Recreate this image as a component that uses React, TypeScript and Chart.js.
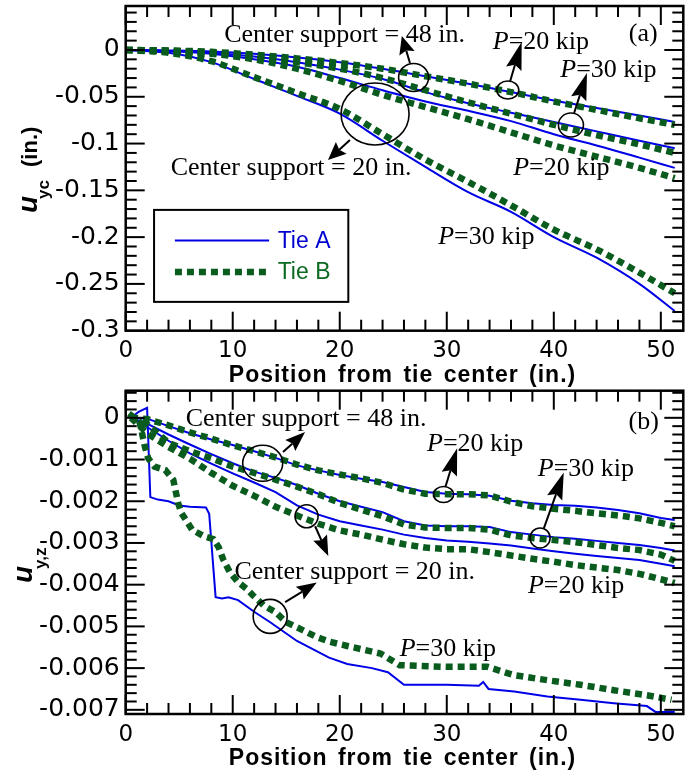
import React, { useEffect, useRef } from "react";
import { Chart, registerables } from "chart.js";

Chart.register(...registerables);

const BLUE = "#0000e6";
const GREEN = "#0a5c1e";

// ---------- shared axis ticks ----------
const xTicks = [0, 10, 20, 30, 40, 50];
const xTickLabels = ["0", "10", "20", "30", "40", "50"];
const aYTicks = [0, -0.05, -0.1, -0.15, -0.2, -0.25, -0.3];
const aYTickLabels = ["0", "-0.05", "-0.1", "-0.15", "-0.2", "-0.25", "-0.3"];
const bYTicks = [0, -0.001, -0.002, -0.003, -0.004, -0.005, -0.006, -0.007];
const bYTickLabels = ["0", "-0.001", "-0.002", "-0.003", "-0.004", "-0.005", "-0.006", "-0.007"];

// ---------- panel (a) data ----------
const aX = [0, 4, 8, 12, 16, 20, 24, 28, 32, 36, 40, 44, 48, 51.3];
const a48P20TieA = [0, -0.0005, -0.0015, -0.004, -0.008, -0.013, -0.02, -0.028, -0.036, -0.045, -0.054, -0.062, -0.07, -0.077];
const a48P20TieB = [0, -0.0005, -0.002, -0.005, -0.009, -0.014, -0.02, -0.028, -0.036, -0.045, -0.055, -0.064, -0.073, -0.08];
const a48P30TieA = [0, -0.001, -0.003, -0.007, -0.013, -0.021, -0.031, -0.045, -0.057, -0.067, -0.077, -0.087, -0.097, -0.105];
const a48P30TieB = [0, -0.001, -0.003, -0.007, -0.013, -0.02, -0.03, -0.043, -0.056, -0.068, -0.08, -0.091, -0.101, -0.11];
const a20P20TieA = [0, -0.001, -0.004, -0.01, -0.018, -0.03, -0.043, -0.055, -0.065, -0.076, -0.09, -0.102, -0.115, -0.126];
const a20P20TieB = [0, -0.001, -0.004, -0.01, -0.02, -0.033, -0.048, -0.061, -0.074, -0.088, -0.102, -0.114, -0.126, -0.137];
const a20P30TieA = [0, -0.003, -0.013, -0.031, -0.049, -0.068, -0.097, -0.125, -0.152, -0.173, -0.2, -0.222, -0.25, -0.279];
const a20P30TieB = [0, -0.003, -0.012, -0.029, -0.046, -0.063, -0.09, -0.117, -0.141, -0.166, -0.192, -0.213, -0.238, -0.26];

// ---------- panel (b) data ----------
const bX = [0.5, 2, 4, 6, 8, 10, 12, 14, 16, 18, 20, 22, 24, 26, 28, 30, 32, 34, 36, 38, 40, 42, 44, 46, 48, 50, 51.3];
const b48P20TieA = [0, -0.00002, -0.0002, -0.00037, -0.00052, -0.00065, -0.0008, -0.00096, -0.00114, -0.00126, -0.00137, -0.00146, -0.00154, -0.00166, -0.00178, -0.00182, -0.00183, -0.00187, -0.00199, -0.00205, -0.00209, -0.00211, -0.00215, -0.00221, -0.00229, -0.0024, -0.00245];
const b48P20TieB = [0, -0.00003, -0.00018, -0.00035, -0.0005, -0.00066, -0.0008, -0.00095, -0.00112, -0.00126, -0.00136, -0.00145, -0.00156, -0.00172, -0.00182, -0.00183, -0.00183, -0.00186, -0.00201, -0.00212, -0.00218, -0.00223, -0.00229, -0.00234, -0.00241, -0.00252, -0.0026];
const b48P30TieA = [0, -0.00014, -0.0004, -0.00064, -0.00087, -0.00109, -0.00129, -0.00144, -0.00161, -0.00182, -0.002, -0.00213, -0.00226, -0.00248, -0.00258, -0.0026, -0.0026, -0.00262, -0.00274, -0.0028, -0.00286, -0.0029, -0.00295, -0.003, -0.00305, -0.00312, -0.00318];
const b48P30TieB = [0, -0.00015, -0.0006, -0.0008, -0.00097, -0.00117, -0.00132, -0.00148, -0.00165, -0.00183, -0.00204, -0.0022, -0.00236, -0.00256, -0.00263, -0.00264, -0.00264, -0.00268, -0.00282, -0.00288, -0.00293, -0.00298, -0.00305, -0.00312, -0.00317, -0.00328, -0.00343];
const b20P20TieA = [0, -0.00022, -0.00055, -0.00085, -0.0011, -0.00133, -0.00155, -0.00178, -0.0021, -0.00232, -0.00248, -0.00258, -0.00268, -0.0028, -0.00288, -0.00294, -0.00297, -0.00301, -0.00306, -0.00313, -0.0032, -0.00326, -0.00331, -0.00336, -0.00341, -0.0035, -0.00356];
const b20P20TieB = [0, -0.00037, -0.0007, -0.00098, -0.00132, -0.00163, -0.00187, -0.00213, -0.00234, -0.00254, -0.0027, -0.0028, -0.00292, -0.00303, -0.00311, -0.00315, -0.00315, -0.00322, -0.0033, -0.00338, -0.00345, -0.00353, -0.00359, -0.00365, -0.00374, -0.00387, -0.00396];
const b20P30TieAX = [0.5, 1.2, 2.0, 2.3, 3, 4, 5, 6, 7.5, 7.8, 8.4, 9, 9.6, 10.5, 12, 13.5, 16, 19, 20.7, 23, 24.5, 26, 30, 33, 33.4, 33.9, 36.3, 39.4, 42.5, 45.6, 48.7, 49.5, 51.3];
const b20P30TieAY = [0, 0.00014, 0.00024, -0.0019, -0.00196, -0.002, -0.0021, -0.00213, -0.00215, -0.0023, -0.0043, -0.00433, -0.0043, -0.00437, -0.00465, -0.0049, -0.00535, -0.00575, -0.0059, -0.006, -0.0061, -0.0064, -0.0064, -0.00642, -0.00633, -0.0065, -0.00656, -0.00668, -0.00676, -0.00684, -0.00691, -0.00705, -0.00705];
const b20P30TieBX = [0.3, 1.3, 1.8, 2.1, 2.7, 3.7, 4.45, 4.9, 5.2, 6.2, 7.3, 8.2, 8.7, 9.1, 9.75, 10.5, 11.3, 11.9, 12.9, 14, 15, 16.3, 17.8, 19.1, 20.7, 23.8, 25.6, 30, 33.8, 36.3, 39.4, 42.5, 45.6, 48.7, 51];
const b20P30TieBY = [0.0001, -0.0001, -0.0007, -0.00097, -0.00117, -0.00125, -0.00149, -0.00204, -0.00228, -0.00268, -0.00284, -0.00291, -0.00311, -0.00339, -0.00371, -0.00394, -0.0041, -0.00426, -0.0045, -0.00466, -0.0049, -0.00506, -0.00525, -0.00537, -0.00547, -0.00565, -0.00593, -0.00597, -0.00597, -0.00617, -0.00629, -0.0064, -0.00653, -0.00665, -0.00676];

// ---------- annotations (data coordinates) ----------
const aTexts = [
  { x: 20.45, y: 0.0175, text: "Center support = 48 in." },
  { x: 38.8, y: 0.0107, text: "P=20 kip" },
  { x: 45.1, y: -0.0192, text: "P=30 kip" },
  { x: 40.7, y: -0.124, text: "P=20 kip" },
  { x: 33.7, y: -0.1977, text: "P=30 kip" },
  { x: 48.35, y: 0.019, text: "(a)" },
  { x: 15.45, y: -0.124, text: "Center support = 20 in." },
];
const aCircles = [
  { x: 26.9, y: -0.0294, rx: 15, ry: 14 },
  { x: 35.7, y: -0.0428, rx: 11, ry: 9 },
  { x: 41.6, y: -0.0802, rx: 12.5, ry: 12 },
  { x: 23.3, y: -0.0684, rx: 34, ry: 31 },
];
const aArrows = [
  { x1: 26.56, y1: -0.0139, x2: 25.8, y2: 0.015, len: 18, w: 16 },
  { x1: 35.9, y1: -0.0342, x2: 37.0, y2: 0.0086, len: 28, w: 16 },
  { x1: 41.9, y1: -0.0673, x2: 43.1, y2: -0.0246, len: 27, w: 16 },
  { x1: 20.95, y1: -0.0962, x2: 18.9, y2: -0.1176, len: 18, w: 16 },
];
const bTexts = [
  { x: 16.85, y: 0.0, text: "Center support = 48 in." },
  { x: 32.65, y: -0.00058, text: "P=20 kip" },
  { x: 43.0, y: -0.00118, text: "P=30 kip" },
  { x: 42.08, y: -0.004, text: "P=20 kip" },
  { x: 30.1, y: -0.0055, text: "P=30 kip" },
  { x: 48.4, y: -0.00006, text: "(b)" },
  { x: 21.4, y: -0.00365, text: "Center support = 20 in." },
];
const bCircles = [
  { x: 12.8, y: -0.00109, rx: 20, ry: 18 },
  { x: 29.7, y: -0.00184, rx: 10, ry: 8 },
  { x: 38.72, y: -0.00288, rx: 10, ry: 10 },
  { x: 16.9, y: -0.00236, rx: 11.5, ry: 11.5 },
  { x: 13.5, y: -0.00476, rx: 17, ry: 17 },
];
const bArrows = [
  { x1: 14.7, y1: -0.00082, x2: 16.76, y2: -0.00034, len: 20, w: 15 },
  { x1: 29.87, y1: -0.00166, x2: 30.97, y2: -0.00073, len: 27, w: 16 },
  { x1: 39.07, y1: -0.00265, x2: 40.93, y2: -0.00131, len: 27, w: 16 },
  { x1: 17.7, y1: -0.0026, x2: 18.93, y2: -0.00331, len: 20, w: 15 },
  { x1: 14.9, y1: -0.00442, x2: 17.85, y2: -0.00395, len: 20, w: 15 },
];

const SERIF = '"Liberation Serif", "Times New Roman", serif';
const SANS = '"Liberation Sans", Arial, sans-serif';
const TICKFONT = '"DejaVu Sans", sans-serif';

function pts(xs: number[], ys: number[]) {
  return xs.map((x, i) => ({ x, y: ys[i] }));
}

function tieA(label: string, data: any[], smooth: boolean) {
  return {
    label,
    data,
    borderColor: BLUE,
    borderWidth: 2,
    pointRadius: 0,
    fill: false,
    order: 1,
    cubicInterpolationMode: smooth ? "monotone" : "default",
    tension: 0,
  };
}
function tieB(label: string, data: any[], smooth: boolean) {
  return {
    label,
    data,
    borderColor: GREEN,
    borderWidth: 6.5,
    borderDash: [7, 5],
    borderCapStyle: "butt",
    pointRadius: 0,
    fill: false,
    order: 0,
    cubicInterpolationMode: smooth ? "monotone" : "default",
    tension: 0,
  };
}

function minorList(lo: number, hi: number, step: number, majorEvery: number) {
  const out: number[] = [];
  const n = Math.round((hi - lo) / step);
  for (let i = 0; i <= n; i++) {
    const v = lo + i * step;
    const k = Math.round(v / step);
    if (k % majorEvery !== 0) out.push(v);
  }
  return out;
}

function drawPText(ctx: CanvasRenderingContext2D, text: string, cx: number, cy: number, size: number) {
  ctx.fillStyle = "#000";
  ctx.textBaseline = "alphabetic";
  ctx.textAlign = "left";
  const base = cy + size * 0.33;
  if (text.startsWith("P=")) {
    ctx.font = `italic ${size}px ${SERIF}`;
    const wP = ctx.measureText("P").width;
    ctx.font = `${size}px ${SERIF}`;
    const rest = text.slice(1);
    const wR = ctx.measureText(rest).width;
    const x0 = cx - (wP + wR) / 2;
    ctx.font = `italic ${size}px ${SERIF}`;
    ctx.fillText("P", x0, base);
    ctx.font = `${size}px ${SERIF}`;
    ctx.fillText(rest, x0 + wP, base);
  } else {
    ctx.font = `${size}px ${SERIF}`;
    const w = ctx.measureText(text).width;
    ctx.fillText(text, cx - w / 2, base);
  }
}

function drawArrow(ctx: CanvasRenderingContext2D, x1: number, y1: number, x2: number, y2: number, len: number, w: number) {
  const ang = Math.atan2(y2 - y1, x2 - x1);
  const ca = Math.cos(ang), sa = Math.sin(ang);
  const bx = x2 - ca * len * 0.85, by = y2 - sa * len * 0.85;
  ctx.beginPath();
  ctx.moveTo(x1, y1);
  ctx.lineTo(bx, by);
  ctx.lineWidth = 2;
  ctx.strokeStyle = "#000";
  ctx.stroke();
  const backX = x2 - ca * len, backY = y2 - sa * len;
  const nx = -sa, ny = ca;
  ctx.beginPath();
  ctx.moveTo(x2, y2);
  ctx.lineTo(backX + nx * w / 2, backY + ny * w / 2);
  ctx.lineTo(bx, by);
  ctx.lineTo(backX - nx * w / 2, backY - ny * w / 2);
  ctx.closePath();
  ctx.fillStyle = "#000";
  ctx.fill();
}

function makeDecor(cfg: any) {
  return {
    id: "decor",
    afterDatasetsDraw(chart: any) {
      const { ctx, chartArea: ca } = chart;
      const xs = chart.scales.x, ys = chart.scales.y;
      const px = (v: number) => xs.getPixelForValue(v);
      const py = (v: number) => ys.getPixelForValue(v);
      ctx.save();
      ctx.strokeStyle = "#000";
      ctx.lineWidth = 2;
      const seg = (a: number, b: number, c: number, d: number) => {
        ctx.beginPath();
        ctx.moveTo(a, b);
        ctx.lineTo(c, d);
        ctx.stroke();
      };
      cfg.xMinor.forEach((v: number) => {
        const X = px(v);
        seg(X, ca.bottom, X, ca.bottom - 11);
        seg(X, ca.top, X, ca.top + 11);
      });
      xTicks.forEach((v) => {
        const X = px(v);
        seg(X, ca.bottom, X, ca.bottom - 19);
        seg(X, ca.top, X, ca.top + 19);
      });
      cfg.yMinor.forEach((v: number) => {
        const Y = py(v);
        seg(ca.left, Y, ca.left + 11, Y);
        seg(ca.right, Y, ca.right - 11, Y);
      });
      cfg.yMajor.forEach((v: number) => {
        const Y = py(v);
        seg(ca.left, Y, ca.left + 19, Y);
        seg(ca.right, Y, ca.right - 19, Y);
      });
      ctx.lineWidth = 2.5;
      ctx.strokeRect(ca.left, ca.top, ca.right - ca.left, ca.bottom - ca.top);

      // circles
      ctx.lineWidth = 1.6;
      cfg.circles.forEach((c: any) => {
        ctx.beginPath();
        ctx.ellipse(px(c.x), py(c.y), c.rx, c.ry, 0, 0, Math.PI * 2);
        ctx.stroke();
      });
      cfg.arrows.forEach((a: any) => drawArrow(ctx, px(a.x1), py(a.y1), px(a.x2), py(a.y2), a.len, a.w));
      cfg.texts.forEach((t: any) => drawPText(ctx, t.text, px(t.x), py(t.y), 26));

      // legend
      if (cfg.legend) {
        const L = cfg.legend;
        const l = px(L.x0), r = px(L.x1), t = py(L.y0), b = py(L.y1);
        ctx.fillStyle = "#fff";
        ctx.fillRect(l, t, r - l, b - t);
        ctx.lineWidth = 2;
        ctx.strokeStyle = "#000";
        ctx.strokeRect(l, t, r - l, b - t);
        L.items.forEach((it: any) => {
          const ds = chart.data.datasets[it.ds];
          ctx.save();
          ctx.strokeStyle = ds.borderColor;
          ctx.lineWidth = ds.borderWidth;
          ctx.setLineDash(ds.borderDash || []);
          ctx.lineCap = "butt";
          ctx.beginPath();
          ctx.moveTo(px(L.lx0), py(it.y));
          ctx.lineTo(px(it.lx1), py(it.y));
          ctx.stroke();
          ctx.restore();
          ctx.font = `23px ${SANS}`;
          ctx.fillStyle = it.color;
          ctx.textBaseline = "middle";
          ctx.textAlign = "left";
          ctx.fillText(it.text, px(L.tx), py(it.y) + 1);
        });
      }
      ctx.restore();
    },
    afterDraw(chart: any) {
      const { ctx, chartArea: ca } = chart;
      ctx.save();
      // x title
      ctx.font = `bold 23px ${SANS}`;
      ctx.fillStyle = "#000";
      ctx.textBaseline = "alphabetic";
      ctx.textAlign = "center";
      (ctx as any).letterSpacing = "1px";
      (ctx as any).wordSpacing = "3px";
      ctx.fillText("Position from tie center (in.)", (ca.left + ca.right) / 2 - 2, ca.bottom + 51);
      (ctx as any).letterSpacing = "0px";
      (ctx as any).wordSpacing = "0px";
      // y title
      const T = cfg.yTitle;
      ctx.translate(T.bx, T.by);
      ctx.rotate(-Math.PI / 2);
      ctx.textAlign = "left";
      ctx.font = `italic bold 28px ${SANS}`;
      ctx.fillText("u", 0, 0);
      const wu = ctx.measureText("u").width;
      ctx.font = `bold 17px ${SANS}`;
      ctx.fillText(T.sub, wu - 3, T.subDy);
      if (T.unit) {
        ctx.font = `bold 22px ${SANS}`;
        ctx.fillText(T.unit, T.unitX, 0);
      }
      ctx.restore();
    },
  };
}

function buildConfig(p: any) {
  return {
    type: "line",
    data: { datasets: p.datasets },
    options: {
      animation: false,
      responsive: false,
      devicePixelRatio: 1,
      layout: { padding: { left: 0, right: 10.7, top: p.top, bottom: 0 } },
      plugins: { legend: { display: false }, tooltip: { enabled: false } },
      elements: { point: { radius: 0 } },
      scales: {
        x: {
          type: "linear",
          min: 0,
          max: 52.1,
          grid: { display: false, drawTicks: false },
          border: { display: false },
          afterBuildTicks: (s: any) => {
            s.ticks = xTicks.map((v) => ({ value: v }));
          },
          afterFit: (s: any) => {
            s.height = p.xHeight;
            s.paddingLeft = 0;
            s.paddingRight = 0;
          },
          ticks: {
            autoSkip: false,
            maxRotation: 0,
            padding: 7,
            color: "#000",
            font: { family: TICKFONT, size: 23 },
            callback: (_v: any, i: number) => xTickLabels[i],
          },
        },
        y: {
          type: "linear",
          min: p.yMin,
          max: p.yMax,
          grid: { display: false, drawTicks: false },
          border: { display: false },
          afterBuildTicks: (s: any) => {
            s.ticks = p.yTicks.map((v: number) => ({ value: v }));
          },
          afterFit: (s: any) => {
            s.width = 125.7;
            s.paddingTop = 0;
            s.paddingBottom = 0;
          },
          ticks: {
            autoSkip: false,
            padding: 6,
            color: "#000",
            font: { family: TICKFONT, size: 25 },
            callback: (_v: any, i: number) => p.yTickLabels[i],
          },
        },
      },
    },
    plugins: [makeDecor(p.decor)],
  };
}

function configA() {
  const datasets = [
    tieB("48 in. P=20 kip, Tie B", pts(aX, a48P20TieB), true),
    tieB("48 in. P=30 kip, Tie B", pts(aX, a48P30TieB), true),
    tieB("20 in. P=20 kip, Tie B", pts(aX, a20P20TieB), true),
    tieB("20 in. P=30 kip, Tie B", pts(aX, a20P30TieB), true),
    tieA("48 in. P=20 kip, Tie A", pts(aX, a48P20TieA), true),
    tieA("48 in. P=30 kip, Tie A", pts(aX, a48P30TieA), true),
    tieA("20 in. P=20 kip, Tie A", pts(aX, a20P20TieA), true),
    tieA("20 in. P=30 kip, Tie A", pts(aX, a20P30TieA), true),
  ];
  return buildConfig({
    datasets,
    top: 6,
    xHeight: 61.3,
    yMin: -0.3,
    yMax: 0.047,
    yTicks: aYTicks,
    yTickLabels: aYTickLabels,
    decor: {
      xMinor: minorList(0, 50, 2, 5),
      yMinor: minorList(-0.3, 0.04, 0.01, 5),
      yMajor: aYTicks,
      texts: aTexts,
      circles: aCircles,
      arrows: aArrows,
      legend: {
        x0: 2.65, x1: 20.8, y0: -0.1709, y1: -0.2692,
        lx0: 4.6, tx: 14.2,
        items: [
          { ds: 4, y: -0.2035, lx1: 13.4, text: "Tie A", color: "#0000d0" },
          { ds: 0, y: -0.2373, lx1: 13.3, text: "Tie B", color: "#0b6a22" },
        ],
      },
      yTitle: { bx: 37, by: 213, sub: "yc", subDy: 12, unit: "(in.)", unitX: 46 },
    },
  });
}

function configB() {
  const datasets = [
    tieB("48 in. P=20 kip, Tie B", pts(bX, b48P20TieB), false),
    tieB("48 in. P=30 kip, Tie B", pts(bX, b48P30TieB), false),
    tieB("20 in. P=20 kip, Tie B", pts(bX, b20P20TieB), false),
    tieB("20 in. P=30 kip, Tie B", pts(b20P30TieBX, b20P30TieBY), false),
    tieA("48 in. P=20 kip, Tie A", pts(bX, b48P20TieA), false),
    tieA("48 in. P=30 kip, Tie A", pts(bX, b48P30TieA), false),
    tieA("20 in. P=20 kip, Tie A", pts(bX, b20P20TieA), false),
    tieA("20 in. P=30 kip, Tie A", pts(b20P30TieAX, b20P30TieAY), false),
  ];
  return buildConfig({
    datasets,
    top: 10.7,
    xHeight: 58,
    yMin: -0.0071,
    yMax: 0.00065,
    yTicks: bYTicks,
    yTickLabels: bYTickLabels,
    decor: {
      xMinor: minorList(0, 50, 2, 5),
      yMinor: minorList(-0.007, 0.0006, 0.0002, 5),
      yMajor: bYTicks,
      texts: bTexts,
      circles: bCircles,
      arrows: bArrows,
      legend: null,
      yTitle: { bx: 32, by: 203, sub: "y,z", subDy: 14, unit: "", unitX: 0 },
    },
  });
}

function ChartCanvas({ top, height, build }: { top: number; height: number; build: () => any }) {
  const ref = useRef<HTMLCanvasElement | null>(null);
  useEffect(() => {
    const chart = new Chart(ref.current as HTMLCanvasElement, build());
    return () => chart.destroy();
  }, []);
  return (
    <canvas
      ref={ref}
      width={694}
      height={height}
      style={{ position: "absolute", left: 0, top, width: 694, height, display: "block" }}
    />
  );
}

export default function App() {
  return (
    <div style={{ position: "fixed", left: 0, top: 0, width: 694, height: 772, background: "#fff", overflow: "hidden" }}>
      <ChartCanvas top={0} height={392} build={configA} />
      <ChartCanvas top={380} height={392} build={configB} />
    </div>
  );
}
